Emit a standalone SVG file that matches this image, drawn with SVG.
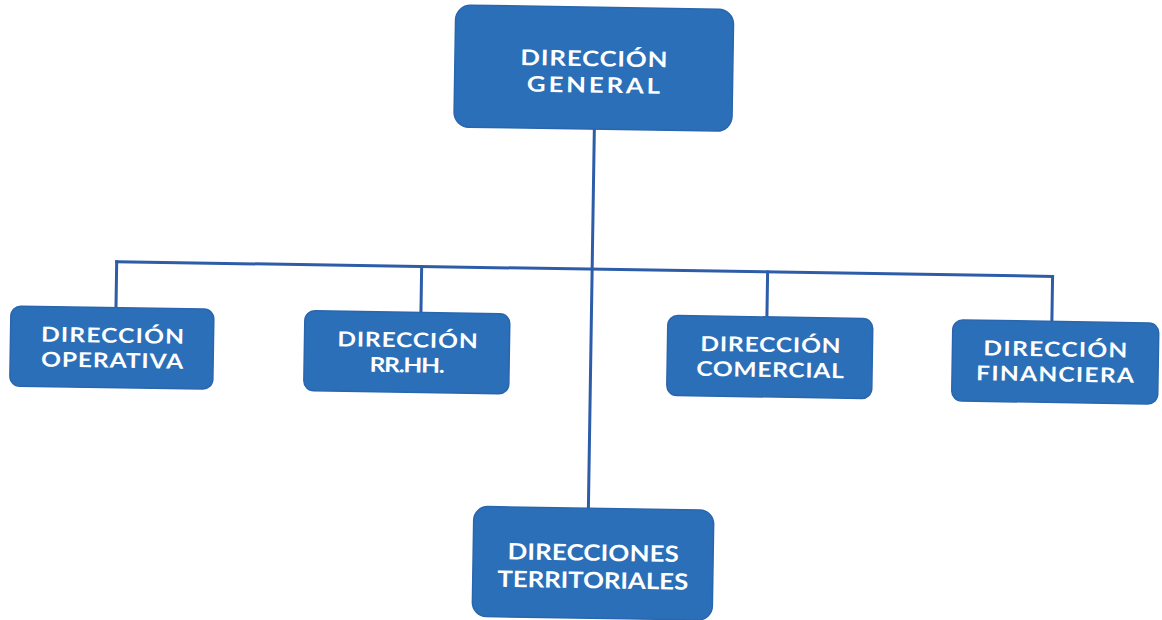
<svg xmlns="http://www.w3.org/2000/svg" width="1162" height="620" viewBox="0 0 1162 620">
<style>
.box{fill:#2b6fb8;stroke:#2a66ad;stroke-width:1.5}
.lbl{font-family:Lato,"Open Sans","Liberation Sans",sans-serif;font-weight:700;fill:#ffffff;text-anchor:middle}
.s{font-size:20.5px}
.b{font-size:21.5px}
.t{font-size:22.5px}
.conn{stroke:#2d5ca8;stroke-width:3;fill:none;stroke-linecap:square}
</style>
<rect width="1162" height="620" fill="#ffffff"/>
<g transform="rotate(0.9 581 310)">
<g id="connectors">
<line class="conn" x1="591.5" y1="129" x2="591.5" y2="508"/>
<line class="conn" x1="116" y1="269" x2="1052" y2="269"/>
<line class="conn" x1="116" y1="269" x2="116" y2="315"/>
<line class="conn" x1="421" y1="269" x2="421" y2="315"/>
<line class="conn" x1="767" y1="269" x2="767" y2="314"/>
<line class="conn" x1="1052" y1="269" x2="1052" y2="314"/>
</g>
<g id="direccion-general">
<rect class="box" x="451" y="7" width="278" height="122" rx="15"/>
<text class="lbl b" transform="translate(590 66) scale(1.2 1)" textLength="122.5" lengthAdjust="spacing">DIRECCIÓN</text>
<text class="lbl b" transform="translate(590 92.5) scale(1.2 1)" textLength="111" lengthAdjust="spacing">GENERAL</text>
</g>
<g id="direccion-operativa">
<rect class="box" x="11" y="315" width="203" height="80" rx="10"/>
<text class="lbl s" transform="translate(113 350) scale(1.2 1)" textLength="119" lengthAdjust="spacing">DIRECCIÓN</text>
<text class="lbl s" transform="translate(113 375) scale(1.2 1)" textLength="118.5" lengthAdjust="spacing">OPERATIVA</text>
</g>
<g id="direccion-rrhh">
<rect class="box" x="305" y="315" width="205" height="80" rx="10"/>
<text class="lbl s" transform="translate(408 350) scale(1.2 1)" textLength="117" lengthAdjust="spacing">DIRECCIÓN</text>
<text class="lbl s" transform="translate(408 375) scale(1.2 1)" textLength="62.5" lengthAdjust="spacing">RR.HH.</text>
</g>
<g id="direccion-comercial">
<rect class="box" x="668" y="314" width="205" height="80" rx="10"/>
<text class="lbl s" transform="translate(771 349) scale(1.2 1)" textLength="117" lengthAdjust="spacing">DIRECCIÓN</text>
<text class="lbl s" transform="translate(771 374) scale(1.2 1)" textLength="123" lengthAdjust="spacing">COMERCIAL</text>
</g>
<g id="direccion-financiera">
<rect class="box" x="953" y="314" width="206" height="81" rx="10"/>
<text class="lbl s" transform="translate(1056 349) scale(1.2 1)" textLength="120" lengthAdjust="spacing">DIRECCIÓN</text>
<text class="lbl s" transform="translate(1056 374) scale(1.2 1)" textLength="131.5" lengthAdjust="spacing">FINANCIERA</text>
</g>
<g id="direcciones-territoriales">
<rect class="box" x="477" y="508" width="240" height="110" rx="14"/>
<text class="lbl t" transform="translate(597 560.5) scale(1.15 1)" textLength="149" lengthAdjust="spacing">DIRECCIONES</text>
<text class="lbl t" transform="translate(597 588) scale(1.15 1)" textLength="166" lengthAdjust="spacing">TERRITORIALES</text>
</g>
</g>
</svg>
